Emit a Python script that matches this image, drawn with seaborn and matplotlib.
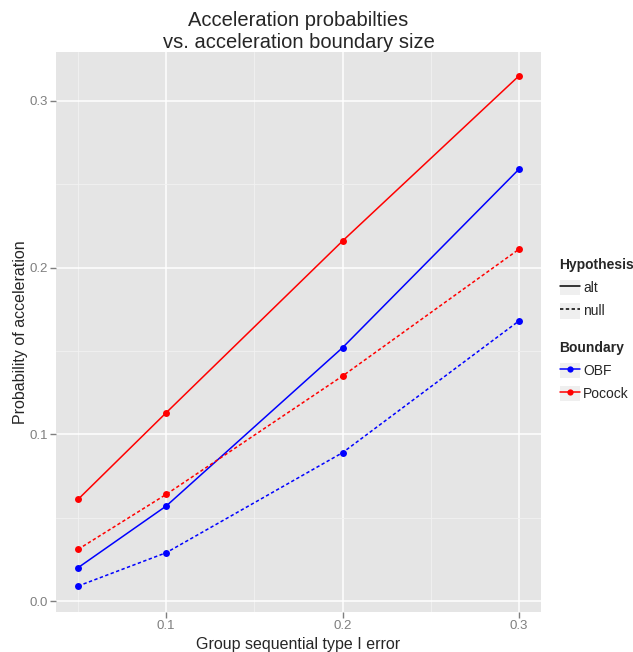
import pandas as pd
import matplotlib.pyplot as plt
import seaborn as sns
from matplotlib.lines import Line2D
from matplotlib.patches import Patch
from matplotlib.legend_handler import HandlerTuple
from matplotlib.ticker import MultipleLocator

# --------------------- Data ---------------------
type1_error = [0.05, 0.1, 0.2, 0.3]
obf_alt = [0.020, 0.057, 0.152, 0.259]
obf_null = [0.009, 0.029, 0.089, 0.168]
pocock_alt = [0.061, 0.113, 0.216, 0.315]
pocock_null = [0.031, 0.064, 0.135, 0.211]

boundaries = ["OBF", "Pocock"]
hypotheses = ["alt", "null"]
boundary_colors = {"OBF": "#0000FF", "Pocock": "#FF0000"}

rows = []
for boundary, hyp, vals in [("OBF", "alt", obf_alt), ("OBF", "null", obf_null),
                            ("Pocock", "alt", pocock_alt), ("Pocock", "null", pocock_null)]:
    for x, y in zip(type1_error, vals):
        rows.append({"error": x, "prob": y, "Boundary": boundary, "Hypothesis": hyp})
df = pd.DataFrame(rows)

# --------------------- Plot ---------------------
sns.set_style("darkgrid", {"axes.facecolor": "#E5E5E5", "grid.color": "white"})
plt.rcParams["font.family"] = ["Liberation Sans", "DejaVu Sans"]

fig = plt.figure(figsize=(6.33, 6.52), dpi=100)
ax = fig.add_axes([0.0885, 0.0613, 0.766, 0.859])

sns.lineplot(data=df, x="error", y="prob", hue="Boundary", style="Hypothesis",
             palette=boundary_colors, hue_order=boundaries, style_order=hypotheses,
             dashes={"alt": "", "null": (2.2, 1.6)}, markers={"alt": "o", "null": "o"},
             markersize=5, markeredgewidth=0, linewidth=1.1, legend=False, ax=ax)

ax.set_xlim(0.0375, 0.3125)
ax.set_ylim(-0.0066, 0.3294)
ax.xaxis.set_minor_locator(MultipleLocator(0.05))
ax.yaxis.set_minor_locator(MultipleLocator(0.05))
ax.grid(which="major", color="white", linewidth=1.1)
ax.grid(which="minor", color="#F2F2F2", linewidth=0.6)
ax.set_axisbelow(True)
for s in ax.spines.values():
    s.set_visible(False)

ax.set_xticks([0.1, 0.2, 0.3])
ax.set_xticklabels(["0.1", "0.2", "0.3"])
ax.set_yticks([0.0, 0.1, 0.2, 0.3])
ax.set_yticklabels(["0.0", "0.1", "0.2", "0.3"])
ax.tick_params(axis="both", which="major", length=4, width=1, color="#7F7F7F",
               labelcolor="#7F7F7F", labelsize=9.5, pad=2, bottom=True, left=True)
ax.tick_params(which="minor", length=0)

ax.set_xlabel("Group sequential type I error", fontsize=11.5, labelpad=3)
ax.set_ylabel("Probability of acceleration", fontsize=11.5, labelpad=1)
ax.set_title("Acceleration probabilties\nvs. acceleration boundary size",
             fontsize=14.5, linespacing=1.2, pad=3)

# --------------------- Legends ---------------------
key_bg = Patch(facecolor="#EFEFEF", edgecolor="none")
hyp_handles = [(key_bg, Line2D([], [], color="black", linewidth=1.1, linestyle=ls))
               for ls in ["-", (0, (2.2, 1.6))]]
bnd_handles = [(key_bg, Line2D([], [], color=boundary_colors[b], linewidth=1.1,
                               marker="o", markersize=4.5, markeredgewidth=0))
               for b in boundaries]

leg_kw = dict(frameon=False, fontsize=10, title_fontsize=10, handlelength=1.5,
              handleheight=1.35, handletextpad=0.2, labelspacing=0.55, borderpad=0,
              borderaxespad=0, alignment="left",
              handler_map={tuple: HandlerTuple(ndivide=1, pad=0)})
leg1 = fig.legend(hyp_handles, hypotheses, title="Hypothesis", loc="upper left",
                  bbox_to_anchor=(0.884, 0.604), **leg_kw)
leg1.get_title().set_fontweight("bold")
leg2 = fig.legend(bnd_handles, boundaries, title="Boundary", loc="upper left",
                  bbox_to_anchor=(0.884, 0.477), **leg_kw)
leg2.get_title().set_fontweight("bold")

plt.savefig("out.png", dpi=100, facecolor="white")
